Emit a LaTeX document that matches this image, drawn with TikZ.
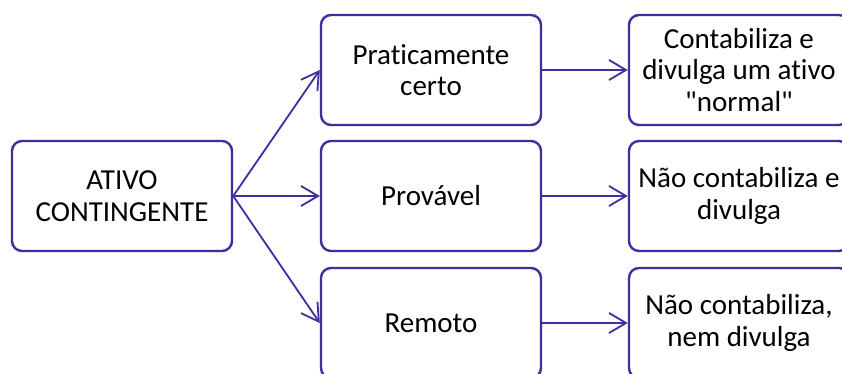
\documentclass[tikz,border=0pt]{standalone}
\usepackage{fontspec}
\setmainfont{Carlito}[Ligatures={TeXOff,CommonOff}]
\usetikzlibrary{arrows.meta}
\definecolor{edgeblue}{RGB}{62,46,160}
\tikzset{
  box/.style={draw=edgeblue, line width=2.4pt, rounded corners=10pt, fill=white,
    minimum width=220pt, minimum height=110pt, inner sep=0pt, align=center,
    font=\fontsize{29pt}{31.5pt}\selectfont, text=black},
  conn/.style={draw=edgeblue, line width=1.8pt, -{Straight Barb[length=17pt,width=20pt,line width=1.8pt]}}
}
\begin{document}
\begin{tikzpicture}[x=1pt,y=1pt]
\clip (0,0) rectangle (842,-374);
\fill[white] (0,0) rectangle (842,-374);
\node[box] (root) at (122,-196) {ATIVO\\CONTINGENTE};
\node[box] (m1) at (431,-70) {Praticamente\\certo};
\node[box] (m2) at (431,-196) {Provável};
\node[box] (m3) at (431,-323) {Remoto};
\node[box] (r1) at (739,-70) {Contabiliza e\\divulga um ativo\\"normal"};
\node[box] (r2) at (739,-196) {Não contabiliza e\\divulga};
\node[box] (r3) at (739,-323) {Não contabiliza,\\nem divulga};
\draw[conn] (root.east) -- (m1.west);
\draw[conn] (root.east) -- (m2.west);
\draw[conn] (root.east) -- (m3.west);
\draw[conn] (m1.east) -- (r1.west);
\draw[conn] (m2.east) -- (r2.west);
\draw[conn] (m3.east) -- (r3.west);
\end{tikzpicture}
\end{document}
